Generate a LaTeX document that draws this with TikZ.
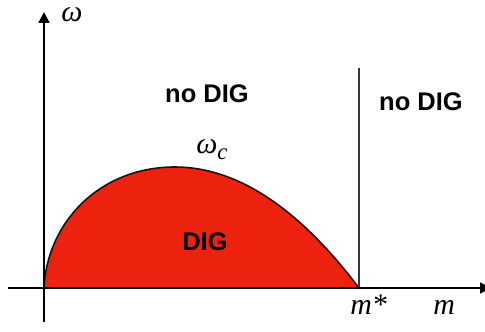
\documentclass[tikz,border=0pt]{standalone}
\usepackage{fontspec}
\setmainfont{Liberation Serif}
\newfontfamily\labelsans{Liberation Sans}
\usetikzlibrary{arrows.meta}
\definecolor{digred}{RGB}{236,34,14}
\definecolor{ink}{RGB}{20,20,20}
\tikzset{
  >={Triangle[length=2.2mm,width=2.2mm]},
  axis/.style={->,line width=1pt,draw=black},
  region/.style={font=\labelsans\bfseries\fontsize{14.5}{16}\selectfont,text=black},
  var/.style={font=\itshape\fontsize{17}{20}\selectfont,inner sep=0pt},
}
\begin{document}
\begin{tikzpicture}
  \useasboundingbox (-0.88,-0.88) rectangle (8.82,5.76);
  \coordinate (o) at (0,0);
  \coordinate (peak) at (2.62,2.42);
  \coordinate (mstar) at (6.3,0);
  \coordinate (wall) at (6.3,4.4);
  \coordinate (xlo) at (-0.72,0);
  \coordinate (xhi) at (8.94,0);
  \coordinate (ylo) at (0,-0.68);
  \coordinate (yhi) at (0,5.52);
  % DIG region under the critical curve
  \filldraw[fill=digred,draw=ink,line width=0.9pt] (o) .. controls (0.06,1.3) and (1.1,2.42) .. (peak)
    .. controls (3.84,2.42) and (5.08,1.62) .. (mstar) -- cycle;
  \draw[ink!85,line width=0.6pt] (mstar) -- (wall);
  \draw[axis] (xlo) -- (xhi);
  \draw[axis] (ylo) -- (yhi);
  \node[var] (w) at (0.56,5.46) {ω};
  \node[var] (wc) at (3.36,2.76) {ω\raisebox{-0.45ex}{\fontsize{13}{15}\selectfont c}};
  \node[region] (nodig1) at (3.26,3.88) {no DIG};
  \node[region] (nodig2) at (7.54,3.72) {no DIG};
  \node[region] (dig) at (3.22,0.92) {DIG};
  \node[var,anchor=base west] (ms) at (6.12,-0.54) {m*};
  \node[var,anchor=base west] (m) at (7.78,-0.54) {m};
\end{tikzpicture}
\end{document}
